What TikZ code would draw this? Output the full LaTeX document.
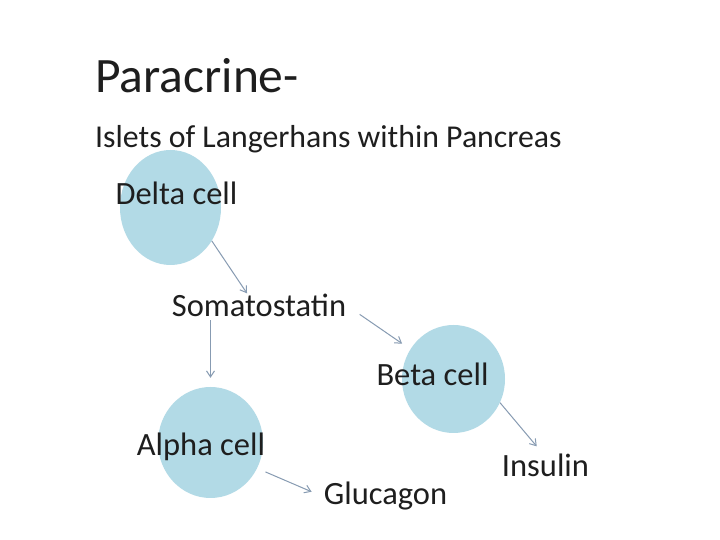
\documentclass[tikz,border=0pt]{standalone}
\usepackage{fontspec}
\setmainfont{Carlito}
\usepackage{xcolor}
\usepackage{tikz}
\usetikzlibrary{arrows.meta, positioning, shapes.geometric}

\definecolor{cellblue}{RGB}{178,218,230}
\definecolor{arrowgray}{RGB}{135,155,178}
\definecolor{textgray}{RGB}{30,30,30}

\begin{document}
\begin{tikzpicture}[x=1pt, y=1pt, >={Straight Barb[length=6pt,width=8pt]},
  cellnode/.style={ellipse, fill=cellblue, inner sep=0pt},
  lbl/.style={font=\fontsize{32.5}{36}\selectfont, text=textgray, inner sep=1pt, anchor=base},
  flow/.style={->, draw=arrowgray, line width=1pt}]
  \useasboundingbox[fill=white] (0,0) rectangle (720,540);
  \node[anchor=base west, inner sep=0pt, font=\fontsize{49.5}{54}\selectfont, text=textgray] (title) at (95,447) {Paracrine-};
  \node[anchor=base west, inner sep=0pt, font=\fontsize{31.8}{36}\selectfont, text=textgray] (sub) at (95,392) {Islets of Langerhans within Pancreas};
  \node[cellnode, minimum width=101pt, minimum height=115pt] (delta) at (170.5,332.5) {};
  \node[cellnode, minimum width=103pt, minimum height=108pt] (beta) at (453.5,161) {};
  \node[cellnode, minimum width=105pt, minimum height=111pt] (alpha) at (210.5,97.5) {};
  \node[lbl] (deltatxt) at (176.5,335) {Delta cell};
  \node[lbl] (somato) at (259,223) {Somatostatin};
  \node[lbl] (betatxt) at (432.5,154) {Beta cell};
  \node[lbl] (insulin) at (545.5,63) {Insulin};
  \node[lbl] (alphatxt) at (201,84) {Alpha cell};
  \node[lbl] (glucagon) at (385.5,35) {Glucagon};
  \draw[flow] (delta.-39) -- ([xshift=-12pt]somato.north);
  \draw[flow, shorten <=2pt, shorten >=9pt] (somato.south -| alpha.north) -- (alpha.north);
  \draw[flow, shorten <=15pt, shorten >=10pt] (somato.east) -- (beta);
  \draw[flow, shorten >=9pt] (beta.-27) -- ([xshift=-3pt]insulin.north);
  \draw[flow, shorten <=9pt, shorten >=12pt] (alpha.-29) -- (glucagon.west);
\end{tikzpicture}
\end{document}
